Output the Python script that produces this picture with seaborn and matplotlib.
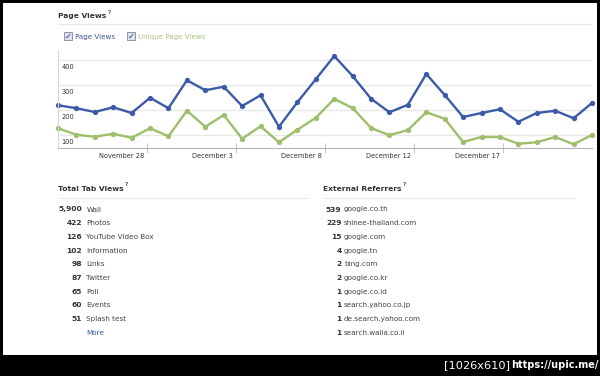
import numpy as np
import pandas as pd
import matplotlib
matplotlib.use("Agg")
import matplotlib.pyplot as plt
import matplotlib.transforms as mtransforms
from matplotlib.patches import Rectangle
from matplotlib.lines import Line2D
import seaborn as sns

# ---------------- data ----------------
days = list(range(30))  # Nov 23 .. Dec 22
page_views = [218, 206, 191, 210, 187, 248, 206, 318,
              278, 292, 215, 258, 132, 230, 322,
              415, 335, 244, 190, 220, 343, 259, 171,
              187, 202, 152, 187, 196, 166, 227]
unique_views = [126, 100, 92, 104, 88, 126, 94, 196,
                132, 179, 84, 134, 70, 120, 168,
                243, 207, 127, 98, 119, 190, 164, 71,
                91, 91, 64, 70, 91, 62, 99]
series_names = ["Page Views", "Unique Page Views"]
xtick_labels = ["November 28", "December 3", "December 8", "December 12", "December 17"]
ytick_values = [100, 200, 300, 400]

tab_counts = ["5,900", "422", "126", "102", "98", "87", "65", "60", "51"]
tab_names = ["Wall", "Photos", "YouTube Video Box", "Information", "Links",
             "Twitter", "Poll", "Events", "Splash test"]
ref_counts = ["539", "229", "15", "4", "2", "2", "1", "1", "1", "1"]
ref_names = ["google.co.th", "shinee-thailand.com", "google.com", "google.tn",
             "bing.com", "google.co.kr", "google.co.id", "search.yahoo.co.jp",
             "de.search.yahoo.com", "search.walla.co.il"]

BLUE = "#3b5aa8"
GREEN = "#9dbf6c"
LEG_GREEN = "#a9c47f"
TXT = "#333333"
LINK = "#3b5998"

sns.set_theme(style="white")
plt.rcParams['font.family'] = ['DejaVu Sans']

W, H = 600, 376
fig = plt.figure(figsize=(6, 3.76), dpi=100, facecolor='black')


def fx(x):
    return x / W


def fy(y):
    return 1 - y / H


# white panel
fig.patches.append(Rectangle((fx(3), fy(355)), fx(597) - fx(3), fy(3) - fy(355),
                             transform=fig.transFigure, facecolor='white',
                             edgecolor='none', zorder=-5))

renderer = fig.canvas.get_renderer()


def title(x, y, s):
    t = fig.text(fx(x), fy(y), s, fontsize=5.4, fontweight='bold', color=TXT,
                 ha='left', va='center')
    bb = t.get_window_extent(renderer)
    fig.text(bb.x1 / W + fx(1), fy(y - 4), "?", fontsize=4, fontweight='bold',
             color='#555555', ha='left', va='center')


def hline(x0, x1, y, color='#e9e9e9'):
    fig.lines.append(Line2D([fx(x0), fx(x1)], [fy(y), fy(y)], transform=fig.transFigure,
                            color=color, lw=0.8))


# ---------------- Page Views ----------------
title(58, 16, "Page Views")
hline(58, 592, 24)

# legend checkboxes
for bx, tx, lab, col in [(64, 75, series_names[0], LINK), (127, 138, series_names[1], LEG_GREEN)]:
    fig.patches.append(Rectangle((fx(bx), fy(40)), fx(8), 8 / H, transform=fig.transFigure,
                                 facecolor='#dfe3ee', edgecolor='#8b93a8', lw=0.7))
    fig.text(fx(bx + 4), fy(36), "\u2713", fontsize=6, fontweight='bold',
             color='#2d4478', ha='center', va='center')
    fig.text(fx(tx), fy(36.5), lab, fontsize=5.1, color=col, ha='left', va='center')

ax = fig.add_axes([fx(58), fy(148), fx(592) - fx(58), (148 - 50) / H])
ax.set_facecolor('none')

df = pd.DataFrame({
    "day": days * 2,
    "views": page_views + unique_views,
    "series": [series_names[0]] * len(days) + [series_names[1]] * len(days),
})
sns.lineplot(data=df, x="day", y="views", hue="series", hue_order=series_names[::-1],
             palette=[GREEN, BLUE], marker='o', markersize=3.8, markeredgewidth=0,
             linewidth=1.7, legend=False, ax=ax, clip_on=False)

ax.set_xlim(0, 29)
ax.set_ylim(47, 439)
ax.set_xlabel("")
ax.set_ylabel("")
ax.set_yticks(ytick_values)
ax.set_yticklabels([])
ax.tick_params(axis='y', length=0)
ax.yaxis.grid(True, color='#e8e8e8', lw=1)
ax.xaxis.grid(False)
ax.set_axisbelow(True)

xticks = np.linspace(0, 29, 7)[1:-1]
ax.set_xticks(xticks)
ax.set_xticklabels([])
ax.tick_params(axis='x', length=7, width=0.8, color='#c8c8c8', direction='inout', bottom=True)

for side in ['top', 'right']:
    ax.spines[side].set_visible(False)
ax.spines['left'].set_color('#d6d6d6')
ax.spines['left'].set_linewidth(0.8)
ax.spines['bottom'].set_color('#b4b4b4')
ax.spines['bottom'].set_linewidth(0.8)

xtr = mtransforms.offset_copy(mtransforms.blended_transform_factory(ax.transData, ax.transAxes),
                              fig=fig, x=-3, y=-8.5, units='dots')
for t, lab in zip(xticks, xtick_labels):
    ax.text(t, 0, lab, transform=xtr, ha='right', va='center', fontsize=4.8, color=TXT)

ytr = mtransforms.offset_copy(mtransforms.blended_transform_factory(ax.transAxes, ax.transData),
                              fig=fig, x=3.5, y=-7.5, units='dots')
for v in ytick_values:
    ax.text(0, v, str(v), transform=ytr, ha='left', va='center', fontsize=4.8, color=TXT)

# ---------------- Total Tab Views ----------------
title(58, 189, "Total Tab Views")
hline(58, 308, 197.5)
row0, step = 209.5, 13.68
for i, (c, n) in enumerate(zip(tab_counts, tab_names)):
    y = row0 + step * i
    fig.text(fx(82), fy(y), c, fontsize=5.4, fontweight='bold', color=TXT, ha='right', va='center')
    fig.text(fx(86.5), fy(y), n, fontsize=5.2, color='#444444', ha='left', va='center')
fig.text(fx(86.5), fy(row0 + step * len(tab_names)), "More", fontsize=5.2, color=LINK,
         ha='left', va='center')

# ---------------- External Referrers ----------------
title(323, 189, "External Referrers")
hline(323, 574, 197.5)
for i, (c, n) in enumerate(zip(ref_counts, ref_names)):
    y = row0 + step * i
    fig.text(fx(341.5), fy(y), c, fontsize=5.4, fontweight='bold', color=TXT, ha='right', va='center')
    fig.text(fx(344), fy(y), n, fontsize=5.2, color='#444444', ha='left', va='center')

# ---------------- footer ----------------
fig.text(fx(510), fy(365.5), "[1026x610]", fontsize=8.2, color='white', ha='right', va='center')
fig.text(fx(598), fy(365.5), "https://upic.me/", fontsize=7, fontweight='bold', color='white',
         ha='right', va='center')

fig.savefig("out.png", dpi=100, facecolor='black')
